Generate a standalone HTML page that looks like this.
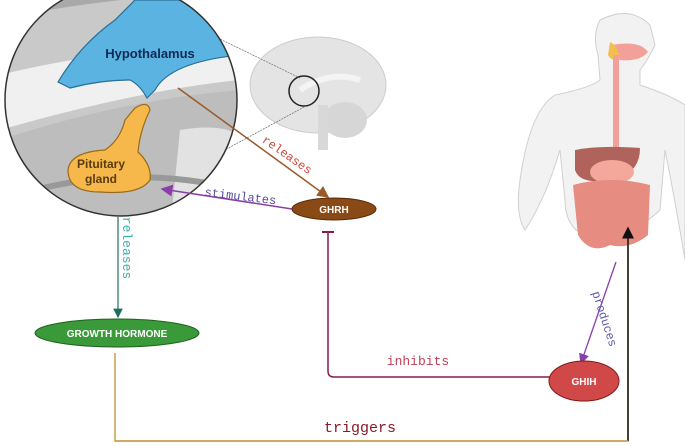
<!DOCTYPE html>
<html><head><meta charset="utf-8"><style>
body{margin:0;background:#fff;}
svg{display:block}
.m{font-family:"Liberation Mono",monospace}
.s{font-family:"Liberation Sans",sans-serif;font-weight:bold}
</style></head><body>
<svg width="685" height="446" viewBox="0 0 685 446">
<defs>
<clipPath id="c"><circle cx="121" cy="100" r="116"/></clipPath>
<marker id="ab" markerWidth="8" markerHeight="8" refX="7" refY="4" orient="auto"><path d="M0,0L8,4L0,8z" fill="#9a5a2a"/></marker>
<marker id="ap" markerWidth="8" markerHeight="8" refX="7" refY="4" orient="auto"><path d="M0,0L8,4L0,8z" fill="#8a3fa8"/></marker>
<marker id="at" markerWidth="8" markerHeight="8" refX="7" refY="4" orient="auto"><path d="M0,0L8,4L0,8z" fill="#1f6e5e"/></marker>
<marker id="ak" markerWidth="8" markerHeight="8" refX="7" refY="4" orient="auto"><path d="M0,0L8,4L0,8z" fill="#111"/></marker>
</defs>
<!-- brain -->
<ellipse cx="318" cy="85" rx="68" ry="48" fill="#e4e4e4" stroke="#ccc"/>
<ellipse cx="345" cy="120" rx="22" ry="18" fill="#d6d6d6"/>
<path d="M300,90 Q330,70 360,80" stroke="#f4f4f4" stroke-width="6" fill="none"/>
<rect x="318" y="105" width="10" height="45" fill="#d8d8d8"/>
<circle cx="304" cy="91" r="15" fill="none" stroke="#222" stroke-width="1.5"/>
<line x1="150" y1="5" x2="300" y2="78" stroke="#777" stroke-width="0.8" stroke-dasharray="2,1"/>
<line x1="160" y1="185" x2="306" y2="106" stroke="#777" stroke-width="0.8" stroke-dasharray="2,1"/>
<!-- circle -->
<g clip-path="url(#c)">
<rect x="0" y="0" width="240" height="230" fill="#c9c9c9"/>
<path d="M0,20 Q80,0 240,-10 L240,-20 L0,-20z" fill="#a9a9a9"/>
<path d="M0,75 Q60,60 140,50 L240,40 L240,80 Q140,90 0,130z" fill="#f0f0f0"/>
<path d="M0,140 Q120,100 240,90 L240,230 L0,230z" fill="#bdbdbd"/>
<path d="M180,130 Q240,120 250,150 L250,230 L170,230z" fill="#e2e2e2"/>
<path d="M0,200 Q120,160 240,190" stroke="#999" stroke-width="6" fill="none"/>
<path d="M58,82 Q80,45 115,20 L135,0 L240,0 L240,55 Q170,62 155,90 L147,98 Q140,85 130,80 Q100,80 70,88z" fill="#5ab3e0" stroke="#2a6f95" stroke-width="1.2"/>
<path d="M135,108 Q148,100 150,110 Q140,130 138,152 Q152,165 150,180 Q140,195 100,192 Q68,192 68,170 Q70,152 105,150 Q120,140 125,120z" fill="#f6b84a" stroke="#9a6a1a" stroke-width="1.2"/>
</g>
<circle cx="121" cy="100" r="116" fill="none" stroke="#333" stroke-width="1.5"/>
<text x="150" y="58" class="s" font-size="13" fill="#0f2a55" text-anchor="middle">Hypothalamus</text>
<text x="101" y="168" class="s" font-size="12" fill="#5a3c10" text-anchor="middle">Pituitary</text>
<text x="101" y="183" class="s" font-size="12" fill="#5a3c10" text-anchor="middle">gland</text>
<!-- body -->
<path d="M600,20 Q630,5 650,25 L655,45 Q648,60 640,70 L640,85 Q670,95 685,105 L685,260 Q675,200 665,150 L660,210 Q640,230 600,240 Q565,235 565,200 L560,150 Q545,200 525,230 Q515,215 520,180 Q530,110 555,95 Q590,88 600,80 L598,55 Q592,35 600,20z" fill="#f2f2f2" stroke="#d0d0d0"/>
<path d="M612,45 Q640,40 648,52 Q640,62 620,60z" fill="#f2a09a"/>
<path d="M610,42 Q618,45 620,60 Q612,62 608,55z" fill="#f3bf4d"/>
<rect x="613" y="55" width="6" height="95" fill="#f2a09a"/>
<path d="M575,150 Q600,145 640,148 Q640,175 610,180 Q580,185 575,170z" fill="#b0635a"/>
<ellipse cx="612" cy="172" rx="22" ry="12" fill="#f2a89a"/>
<path d="M573,185 Q610,175 650,185 L648,235 Q630,250 610,245 Q590,255 578,235z" fill="#e68c80"/>
<!-- connectors -->
<line x1="178" y1="88" x2="328" y2="197" stroke="#9a5a2a" stroke-width="1.5" marker-end="url(#ab)"/>
<text x="285" y="158" class="m" font-size="12" fill="#d0443a" transform="rotate(35 285 158)" text-anchor="middle">releases</text>
<line x1="292" y1="209" x2="162" y2="189" stroke="#8a3fa8" stroke-width="1.5" marker-end="url(#ap)"/>
<text x="240" y="200" class="m" font-size="12" fill="#5a4aa0" transform="rotate(7 240 200)" text-anchor="middle">stimulates</text>
<line x1="118" y1="217" x2="118" y2="317" stroke="#1f6e5e" stroke-width="1.2" marker-end="url(#at)"/>
<text x="123" y="248" class="m" font-size="13" fill="#3ab0a8" transform="rotate(90 123 248)" text-anchor="middle">releases</text>
<path d="M328,232 L328,371 Q328,377 334,377 L552,377" stroke="#8a1a4a" stroke-width="1.5" fill="none"/>
<line x1="322" y1="232" x2="334" y2="232" stroke="#8a1a4a" stroke-width="2"/>
<text x="418" y="365" class="m" font-size="13" fill="#c0405a" text-anchor="middle">inhibits</text>
<line x1="616" y1="262" x2="581" y2="363" stroke="#8a3fa8" stroke-width="1.3" marker-end="url(#ap)"/>
<text x="601" y="320" class="m" font-size="12" fill="#5a5aaa" transform="rotate(72 601 320)" text-anchor="middle">produces</text>
<path d="M115,353 L115,441 L628,441 L628,228" stroke="#c8a050" stroke-width="1.5" fill="none"/>
<line x1="628" y1="441" x2="628" y2="228" stroke="#111" stroke-width="1.5" marker-end="url(#ak)"/>
<line x1="115" y1="441" x2="628" y2="441" stroke="#c8a050" stroke-width="1.5"/>
<text x="360" y="432" class="m" font-size="15" fill="#8a1a2a" text-anchor="middle">triggers</text>
<!-- nodes -->
<ellipse cx="334" cy="209" rx="42" ry="11" fill="#8a4a16" stroke="#5a2a08"/>
<text x="334" y="213" class="s" font-size="10" fill="#fff" text-anchor="middle">GHRH</text>
<ellipse cx="117" cy="333" rx="82" ry="14" fill="#3a9a3a" stroke="#1e601e"/>
<text x="117" y="337" class="s" font-size="10" fill="#fff" text-anchor="middle">GROWTH HORMONE</text>
<ellipse cx="584" cy="381" rx="35" ry="20" fill="#d04848" stroke="#801818"/>
<text x="584" y="385" class="s" font-size="10" fill="#fff" text-anchor="middle">GHIH</text>
</svg>
</body></html>
